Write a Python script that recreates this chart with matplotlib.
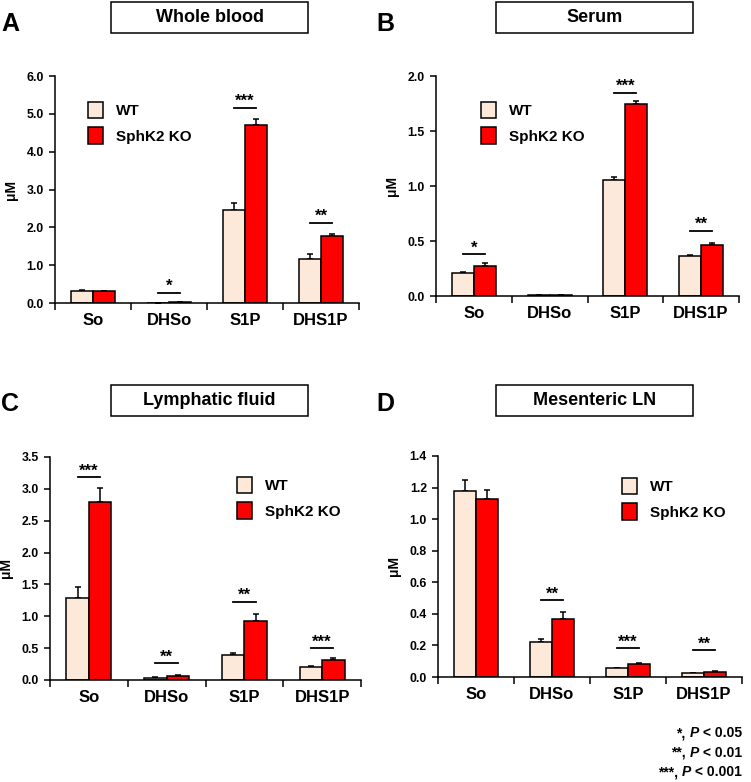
import numpy as np
import matplotlib
matplotlib.use('Agg')
import matplotlib.pyplot as plt
from matplotlib.patches import Rectangle, Patch
from matplotlib.offsetbox import TextArea, HPacker, VPacker, AnchoredOffsetbox

plt.rcParams['font.family'] = ['Liberation Sans', 'DejaVu Sans']
plt.rcParams['font.weight'] = 'bold'

# Lipid species measured
categories = ['So', 'DHSo', 'S1P', 'DHS1P']
groups = ['WT', 'SphK2 KO']

# A: Whole blood
a_wt = [0.33, 0.01, 2.45, 1.17]
a_wt_err = [0.01, 0.002, 0.19, 0.12]
a_ko = [0.32, 0.03, 4.70, 1.77]
a_ko_err = [0.01, 0.005, 0.16, 0.05]
a_sig = ['', '*', '***', '**']
a_sig_y = [0, 0.27, 5.16, 2.12]

# B: Serum
b_wt = [0.207, 0.012, 1.055, 0.365]
b_wt_err = [0.012, 0.001, 0.03, 0.01]
b_ko = [0.276, 0.012, 1.745, 0.46]
b_ko_err = [0.025, 0.001, 0.03, 0.02]
b_sig = ['*', '', '***', '**']
b_sig_y = [0.38, 0, 1.85, 0.594]

# C: Lymphatic fluid
c_wt = [1.29, 0.03, 0.40, 0.20]
c_wt_err = [0.17, 0.01, 0.02, 0.02]
c_ko = [2.80, 0.065, 0.92, 0.32]
c_ko_err = [0.22, 0.01, 0.12, 0.025]
c_sig = ['***', '**', '**', '***']
c_sig_y = [3.18, 0.26, 1.23, 0.50]

# D: Mesenteric LN
d_wt = [1.176, 0.223, 0.055, 0.025]
d_wt_err = [0.075, 0.015, 0.005, 0.003]
d_ko = [1.13, 0.367, 0.084, 0.032]
d_ko_err = [0.055, 0.045, 0.006, 0.004]
d_sig = ['', '**', '***', '**']
d_sig_y = [0, 0.485, 0.183, 0.17]

wt_color = '#FDE9D9'
ko_color = '#FF0000'

fig = plt.figure(figsize=(7.51, 7.82), dpi=100)
W, H = 751.0, 782.0


def fx(px):
    return px / W


def fy(py):
    return 1 - py / H


def panel(rect, letter, letter_xy, title, box_x, box_y, wt, wt_err, ko, ko_err, sig, sig_y,
          ymax, ystep, leg_xy):
    l, r, t, b = rect
    ax = fig.add_axes([fx(l), fy(b), fx(r - l), (b - t) / H])
    x = np.arange(len(categories))
    w = 0.29
    for xs, vals, errs, col in [(x - w / 2, wt, wt_err, wt_color), (x + w / 2, ko, ko_err, ko_color)]:
        ax.bar(xs, vals, width=w, color=col, edgecolor='black', linewidth=1.1, zorder=2)
        ax.errorbar(xs, vals, yerr=[np.zeros(len(vals)), errs], fmt='none',
                    ecolor='black', elinewidth=1.1, capsize=2.5, capthick=1.1, zorder=1)
    for i, s in enumerate(sig):
        if s:
            ax.plot([x[i] - w / 2, x[i] + w / 2], [sig_y[i], sig_y[i]], color='black', lw=1.3)
            ax.annotate(s, xy=(x[i], sig_y[i]), xytext=(0, -1), textcoords='offset points',
                        ha='center', va='bottom', fontsize=12, fontweight='bold')
    ax.set_xlim(-0.5, len(categories) - 0.5)
    ax.set_ylim(0, ymax)
    ax.set_yticks(np.arange(0, ymax + ystep / 2, ystep))
    ax.yaxis.set_major_formatter(plt.FormatStrFormatter('%.1f'))
    ax.set_xticks(np.arange(-0.5, len(categories)), [''] * (len(categories) + 1))
    ax.set_xticks(x, categories, minor=True)
    ax.tick_params(axis='x', which='major', direction='out', length=5, width=1.1)
    ax.tick_params(axis='x', which='minor', length=0, pad=7, labelsize=12)
    ax.tick_params(axis='y', direction='out', length=4, width=1.1, labelsize=8.8, pad=4)
    for sp in ['top', 'right']:
        ax.spines[sp].set_visible(False)
    for sp in ['left', 'bottom']:
        ax.spines[sp].set_linewidth(1.1)
    ax.set_ylabel('μM', fontsize=10, fontweight='bold')
    ax.yaxis.set_label_coords(-37.0 / (r - l), 0.5)

    # title box
    bx0, bx1 = box_x
    by0, by1 = box_y
    fig.patches.append(Rectangle((fx(bx0), fy(by1)), fx(bx1 - bx0), (by1 - by0) / H,
                                 transform=fig.transFigure, facecolor='white',
                                 edgecolor='black', linewidth=1.1))
    fig.text(fx((bx0 + bx1) / 2), fy((by0 + by1) / 2), title, ha='center', va='center',
             fontsize=13, fontweight='bold')
    fig.text(fx(letter_xy[0]), fy(letter_xy[1]), letter, ha='left', va='center', fontsize=18,
             fontweight='bold')

    handles = [Patch(facecolor=wt_color, edgecolor='black', linewidth=1.1),
               Patch(facecolor=ko_color, edgecolor='black', linewidth=1.1)]
    fig.legend(handles, groups, loc='upper left', bbox_to_anchor=(fx(leg_xy[0]), fy(leg_xy[1])),
               bbox_transform=fig.transFigure, frameon=False, borderpad=0, borderaxespad=0,
               handlelength=1.0, handleheight=1.25, labelspacing=0.6, handletextpad=0.85,
               prop={'size': 11, 'weight': 'bold'})
    return ax


panel((55, 359, 76, 303), 'A', (1, 24), 'Whole blood', (111, 308), (2, 33),
      a_wt, a_wt_err, a_ko, a_ko_err, a_sig, a_sig_y, 6.0, 1.0, (88, 102))
panel((436, 739, 76, 296), 'B', (376, 24), 'Serum', (496, 693), (2, 33),
      b_wt, b_wt_err, b_ko, b_ko_err, b_sig, b_sig_y, 2.0, 0.5, (481, 102))
panel((50, 361, 457, 680), 'C', (1, 404), 'Lymphatic fluid', (111, 308), (385, 416),
      c_wt, c_wt_err, c_ko, c_ko_err, c_sig, c_sig_y, 3.5, 0.5, (237, 477))
panel((438, 742, 456, 677), 'D', (376, 404), 'Mesenteric LN', (496, 693), (385, 416),
      d_wt, d_wt_err, d_ko, d_ko_err, d_sig, d_sig_y, 1.4, 0.2, (622, 478))

# significance footnote
note_stars = ['*', '**', '***']
note_p = ['0.05', '0.01', '0.001']
rows = []
for s, p in zip(note_stars, note_p):
    rows.append(HPacker(children=[
        TextArea(s + ', ', textprops=dict(fontsize=10, fontweight='bold')),
        TextArea('P', textprops=dict(fontsize=10, fontweight='bold', fontstyle='italic')),
        TextArea(' < ' + p, textprops=dict(fontsize=10, fontweight='bold')),
    ], pad=0, sep=0, align='baseline'))
box = VPacker(children=rows, pad=0, sep=4, align='right')
anch = AnchoredOffsetbox(loc='upper right', child=box, pad=0, borderpad=0, frameon=False,
                         bbox_to_anchor=(fx(742), fy(726)), bbox_transform=fig.transFigure)
fig.add_artist(anch)

fig.savefig('out.png', dpi=100)
